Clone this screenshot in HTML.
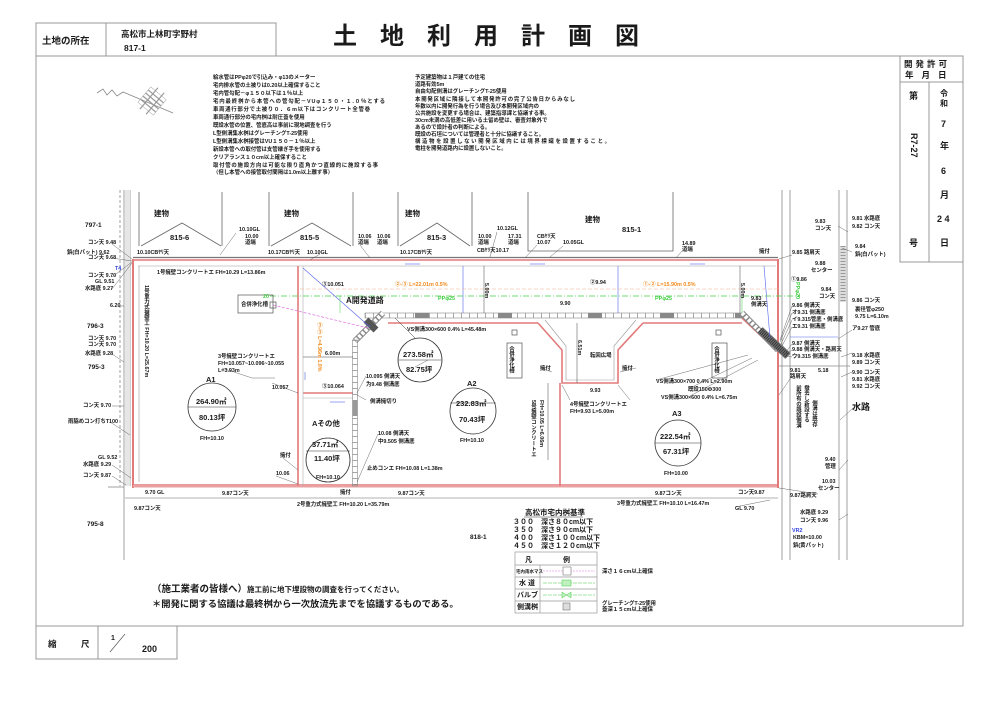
<!DOCTYPE html>
<html><head><meta charset="utf-8">
<style>
html,body{margin:0;padding:0;background:#fff;}
svg{display:block}
text{font-family:"Liberation Sans","Noto Sans CJK JP",sans-serif;fill:#1a1a1a;}
.s{font-size:5.4px;font-weight:bold}
.m{font-size:6.3px;font-weight:bold}
.b{font-size:7.5px;font-weight:bold}
.v{writing-mode:vertical-rl}
.o{fill:#f08a1c}
.g{fill:#3ccc3c}
.bl{fill:#3344dd}
</style></head><body>
<svg width="1000" height="707" viewBox="0 0 1000 707" xmlns="http://www.w3.org/2000/svg">
<rect width="1000" height="707" fill="#fff"/>

<!-- ===== Header ===== -->
<g fill="none" stroke="#999" stroke-width="1">
  <rect x="36" y="23" width="240" height="33"/>
  <line x1="106" y1="23" x2="106" y2="56"/>
  <rect x="36" y="56" width="927" height="570"/>
  <rect x="900" y="56" width="63" height="206"/>
  <line x1="900" y1="82" x2="963" y2="82"/>
  <line x1="929" y1="82" x2="929" y2="262"/>
  <rect x="36" y="626" width="141" height="33"/>
  <line x1="98" y1="626" x2="98" y2="659"/>
</g>
<text x="42" y="44" style="font-size:9.5px;font-weight:bold">土地の所在</text>
<text x="121" y="37" style="font-size:8.5px;font-weight:bold">高松市上林町字野村</text>
<text x="124" y="51" style="font-size:8.5px;font-weight:bold">817-1</text>
<text x="333" y="44" style="font-size:24px;font-weight:bold;letter-spacing:23px">土地利用計画図</text>

<!-- permit box -->
<text x="904" y="67" style="font-size:8.5px;font-weight:bold;letter-spacing:3px">開発許可</text>
<text x="905" y="78" style="font-size:8.5px;font-weight:bold;letter-spacing:8px">年月日</text>
<text x="909" y="99" style="font-size:9px;font-weight:bold">第</text>
<text x="940" y="96" style="font-size:8px;font-weight:bold">令</text>
<text x="940" y="106" style="font-size:8px;font-weight:bold">和</text>
<text x="941" y="127" style="font-size:9px;font-weight:bold">7</text>
<text x="940" y="149" style="font-size:9px;font-weight:bold">年</text>
<text x="941" y="174" style="font-size:9px;font-weight:bold">6</text>
<text x="940" y="198" style="font-size:9px;font-weight:bold">月</text>
<text x="937" y="222" style="font-size:9px;font-weight:bold">2 4</text>
<text x="940" y="246" style="font-size:9px;font-weight:bold">日</text>
<text x="909" y="246" style="font-size:9px;font-weight:bold">号</text>
<text transform="translate(911,133) rotate(90)" style="font-size:9px;font-weight:bold">R7-27</text>

<!-- ===== North arrow ===== -->
<polyline points="97,93 103,89 107,95 112,90 117,96 123,92 173,113" fill="none" stroke="#888" stroke-width="0.8"/>
<g transform="translate(152,101) rotate(40)">
  <rect x="-10" y="-10" width="20" height="20" fill="none" stroke="#aaa" stroke-width="0.5"/>
  <g stroke="#999" stroke-width="1.2">
    <line x1="-10" y1="-6" x2="10" y2="-6"/><line x1="-10" y1="-2" x2="10" y2="-2"/>
    <line x1="-10" y1="2" x2="10" y2="2"/><line x1="-10" y1="6" x2="10" y2="6"/>
    <line x1="-4" y1="-14" x2="-4" y2="14"/><line x1="4" y1="-14" x2="4" y2="14"/>
  </g>
</g>

<!-- ===== Notes block 1 ===== -->
<g class="s">
<text x="213" y="79">給水管はPPφ20で引込み・φ13のメーター</text>
<text x="213" y="87">宅内排水管の土被りは0.20以上確保すること</text>
<text x="213" y="95">宅内管勾配－φ１５０以下は１％以上</text>
<text x="213" y="103" textLength="172">宅内最終桝から本管への管勾配－VUφ１５０・１.０％とする</text>
<text x="213" y="111" textLength="157">車両通行部分で土被り０．６m以下はコンクリート全管巻</text>
<text x="213" y="119">車両通行部分の宅内桝は耐圧蓋を使用</text>
<text x="213" y="127">既設水管の位置、管底高は事前に現地調査を行う</text>
<text x="213" y="135">L型側溝集水桝はグレーチングT-25使用</text>
<text x="213" y="143">L型側溝集水桝接管はVU１５０－１％以上</text>
<text x="213" y="151">新設本管への取付管は支管継ぎ手を使用する</text>
<text x="213" y="159">クリアランス１０cm以上確保すること</text>
<text x="213" y="167" textLength="165">取付管の施設方向は可能な限り直角かつ直線的に施設する事</text>
<text x="213" y="174">（但し本管への接管取付間隔は1.0m以上離す事）</text>
</g>
<!-- ===== Notes block 2 ===== -->
<g class="s">
<text x="415" y="79">予定建築物は１戸建ての住宅</text>
<text x="415" y="86">道路有効5m</text>
<text x="415" y="93">自由勾配側溝はグレーチングT-25使用</text>
<text x="415" y="101" textLength="160">本開発区域に隣接して本開発許可の完了公告日からみなし</text>
<text x="415" y="108">年数以内に開発行為を行う場合及び本開発区域内の</text>
<text x="415" y="115">公共施設を変更する場合は、建築指導課と協議する事。</text>
<text x="415" y="122">30cm未満の高低差に用いる土留め壁は、審査対象外で</text>
<text x="415" y="129">あるので設計者の判断による。</text>
<text x="415" y="136">既設の石垣については管理者と十分に協議すること。</text>
<text x="415" y="143" textLength="195">構造物を設置しない開発区域内には境界標識を設置すること。</text>
<text x="415" y="150">電柱を開発道路内に設置しないこと。</text>
</g>

<!-- ===== Buildings ===== -->
<g fill="none" stroke="#666" stroke-width="0.8">
  <line x1="139" y1="192" x2="139" y2="246"/><line x1="222" y1="192" x2="222" y2="246"/>
  <polyline points="141,246 182,223 221,246"/>
  <line x1="269" y1="192" x2="269" y2="246"/><line x1="353" y1="192" x2="353" y2="246"/>
  <polyline points="271,246 312,223 351,246"/>
  <line x1="398" y1="192" x2="398" y2="246"/><line x1="472" y1="192" x2="472" y2="246"/>
  <polyline points="400,246 437,223 470,246"/>
  <polyline points="528,192 528,251 673,251 673,192"/>
</g>
<g class="b">
<text x="154" y="216">建物</text><text x="170" y="240">815-6</text>
<text x="284" y="216">建物</text><text x="300" y="240">815-5</text>
<text x="405" y="216">建物</text><text x="427" y="240">815-3</text>
<text x="585" y="222">建物</text><text x="622" y="232">815-1</text>
</g>

<!-- ===== Side roads ===== -->
<g stroke="#8a8a8a" stroke-width="0.8" fill="none">
  <line x1="120" y1="190" x2="120" y2="486" stroke-dasharray="3 2"/>
  <line x1="124" y1="190" x2="124" y2="560"/>
  <line x1="130" y1="190" x2="130" y2="486"/>
  <line x1="108" y1="487" x2="124" y2="487"/>
  <line x1="782" y1="190" x2="782" y2="560"/>
  <line x1="790" y1="190" x2="790" y2="560"/>
  <line x1="839" y1="190" x2="839" y2="560"/>
  <line x1="847" y1="190" x2="847" y2="560"/>
  <line x1="778" y1="366" x2="850" y2="366"/>
</g>
<rect x="125" y="190" width="5" height="296" fill="#e6e6e6"/>
<rect x="840" y="246" width="6" height="56" fill="#ddd"/>
<line x1="843" y1="246" x2="843" y2="302" stroke="#999" stroke-width="5" stroke-dasharray="1 2"/>
<line x1="790" y1="337" x2="838" y2="337" stroke="#5566ee" stroke-width="0.6"/>

<!-- ===== Site boundaries ===== -->
<line x1="133" y1="257.5" x2="778" y2="257.5" stroke="#777" stroke-width="1.2"/>
<line x1="133" y1="260" x2="778" y2="260" stroke="#e27a7a" stroke-width="1.6"/>
<line x1="138" y1="266" x2="776" y2="266" stroke="#999" stroke-width="0.6"/>
<line x1="133" y1="259" x2="133" y2="488" stroke="#e27a7a" stroke-width="2"/>
<line x1="139" y1="266" x2="139" y2="482" stroke="#999" stroke-width="0.6"/>
<line x1="133" y1="486" x2="778" y2="486" stroke="#eaa0a0" stroke-width="3"/>
<line x1="133" y1="484.5" x2="778" y2="484.5" stroke="#d66" stroke-width="0.6"/>
<line x1="125" y1="498" x2="778" y2="498" stroke="#999" stroke-width="0.8"/>
<line x1="778" y1="259" x2="778" y2="488" stroke="#e27a7a" stroke-width="2"/>

<!-- lot dividers -->
<g stroke="#e27a7a" stroke-width="1.6" fill="none">
  <line x1="298" y1="266" x2="298" y2="486"/>
  <line x1="303" y1="393" x2="353" y2="393"/>
  <line x1="388" y1="323" x2="538" y2="323"/>
  <line x1="643" y1="323" x2="742" y2="323"/>
  <polyline points="538,323 562,350 562,383 618,383 618,350 643,323"/>
  <line x1="560" y1="383" x2="560" y2="486"/>
  <line x1="742" y1="318" x2="778" y2="352"/>
</g>
<line x1="303" y1="266" x2="303" y2="486" stroke="#aaa" stroke-width="0.6"/>
<line x1="303" y1="398" x2="353" y2="398" stroke="#aaa" stroke-width="0.6"/>
<polyline points="545,320 566,346 566,380 614,380 614,346 636,320" fill="none" stroke="#999" stroke-width="0.6"/>

<!-- gutters (ladder) -->
<g fill="none" stroke="#888" stroke-width="0.6">
  <rect x="365" y="313" width="380" height="5"/>
</g>
<line x1="365" y1="315.5" x2="745" y2="315.5" stroke="#888" stroke-width="5" stroke-dasharray="0.7 7.3"/>
<g fill="#888">
  <rect x="415" y="313" width="14" height="5"/><rect x="498" y="313" width="14" height="5"/>
  <rect x="588" y="313" width="14" height="5"/><rect x="660" y="313" width="14" height="5"/>
  <rect x="735" y="313" width="10" height="5"/>
</g>
<line x1="383" y1="313" x2="355" y2="341" stroke="#888" stroke-width="6"/>
<line x1="383" y1="313" x2="355" y2="341" stroke="#fff" stroke-width="4" stroke-dasharray="3 1.5"/>
<rect x="352.5" y="340" width="5" height="146" fill="none" stroke="#888" stroke-width="0.6"/>
<line x1="355" y1="340" x2="355" y2="486" stroke="#888" stroke-width="5" stroke-dasharray="0.7 5.3"/>
<rect x="352.5" y="400" width="5" height="16" fill="#999"/>
<line x1="366" y1="320" x2="376" y2="330" stroke="#555" stroke-width="7"/>
<!-- right diagonal crossing -->
<line x1="742" y1="313" x2="778" y2="350" stroke="#888" stroke-width="6"/>
<line x1="742" y1="313" x2="778" y2="350" stroke="#fff" stroke-width="4" stroke-dasharray="3 1.5"/>
<line x1="760" y1="330" x2="788" y2="356" stroke="#777" stroke-width="8"/>
<line x1="760" y1="330" x2="788" y2="356" stroke="#333" stroke-width="6" stroke-dasharray="1 1"/>

<!-- top gutter arrows -->
<g stroke="#5566ee" stroke-width="0.6">
  <line x1="405" y1="264" x2="420" y2="264"/><line x1="530" y1="264" x2="545" y2="264"/>
  <line x1="690" y1="264" x2="705" y2="264"/><line x1="305" y1="380" x2="305" y2="372"/>
  <line x1="463" y1="266" x2="463" y2="313"/><line x1="618" y1="266" x2="618" y2="313"/>
  <line x1="764" y1="266" x2="770" y2="338"/>
  <line x1="303" y1="268" x2="370" y2="327"/>
  <line x1="330" y1="402" x2="345" y2="402"/>
</g>

<!-- sewer / water lines -->
<line x1="300" y1="289" x2="778" y2="289" stroke="#f5b08a" stroke-width="0.6" stroke-dasharray="4 2"/>
<line x1="270" y1="296" x2="800" y2="296" stroke="#44cc44" stroke-width="0.7" stroke-dasharray="6 2 1 2"/>
<line x1="273" y1="305" x2="368" y2="328" stroke="#e070e0" stroke-width="0.7" stroke-dasharray="3 1.5"/>
<line x1="340" y1="296" x2="340" y2="313" stroke="#44cc44" stroke-width="0.5"/>
<line x1="742" y1="296" x2="742" y2="313" stroke="#44cc44" stroke-width="0.5"/>

<!-- dimension lines -->
<g stroke="#444" stroke-width="0.5" fill="none">
  <line x1="484" y1="266" x2="484" y2="313"/>
  <line x1="740" y1="266" x2="740" y2="313"/>
  <line x1="303" y1="357" x2="353" y2="357"/>
  <line x1="577" y1="323" x2="577" y2="383"/>
  <line x1="548" y1="383" x2="548" y2="460"/>
</g>

<!-- septic boxes -->
<g fill="none" stroke="#555" stroke-width="0.7">
  <rect x="238" y="295" width="35" height="18"/>
  <rect x="507" y="343" width="15" height="35"/>
  <rect x="712" y="343" width="15" height="35"/>
  <rect x="270" y="302" width="6" height="6"/>
  <rect x="512" y="330" width="5" height="5"/>
  <rect x="716" y="330" width="5" height="5"/>
</g>
<text x="241" y="306" class="s">合併浄化槽</text>
<text x="511" y="346" class="s v">合併浄化槽</text>
<text x="716" y="346" class="s v">合併浄化槽</text>

<!-- circles -->
<g fill="#fff" stroke="#333" stroke-width="0.8">
  <circle cx="212" cy="407" r="24"/><circle cx="420" cy="360" r="22"/>
  <circle cx="328" cy="460" r="22"/><circle cx="473" cy="411" r="23"/>
  <circle cx="678" cy="443" r="23"/>
</g>
<g stroke="#333" stroke-width="0.5">
  <line x1="188" y1="407" x2="236" y2="407"/><line x1="398" y1="360" x2="442" y2="360"/>
  <line x1="306" y1="451" x2="350" y2="451"/><line x1="450" y1="403" x2="496" y2="403"/>
  <line x1="655" y1="443" x2="701" y2="443"/>
  <line x1="395" y1="318" x2="415" y2="338"/>
</g>
<g class="b">
<text x="206" y="382">A1</text>
<text x="196" y="404">264.90㎡</text><text x="199" y="420">80.13坪</text>
<text x="403" y="357">273.58㎡</text><text x="406" y="372">82.75坪</text>
<text x="312" y="426">Aその他</text>
<text x="312" y="447">37.71㎡</text><text x="314" y="461">11.40坪</text>
<text x="467" y="386">A2</text>
<text x="456" y="406">232.83㎡</text><text x="459" y="422">70.43坪</text>
<text x="672" y="416">A3</text>
<text x="660" y="439">222.54㎡</text><text x="663" y="454">67.31坪</text>
<text x="346" y="303" style="font-size:8px">A開発道路</text>
</g>
<g class="s">
<text x="200" y="440">FH=10.10</text>
<text x="316" y="479">FH=10.10</text>
<text x="460" y="442">FH=10.10</text>
<text x="664" y="475">FH=10.00</text>
</g>

<!-- orange/green labels -->
<text x="395" y="286" class="s o">②-③ L=22.01m 0.5%</text>
<text x="643" y="286" class="s o">①-② L=15.90m 0.5%</text>
<text x="438" y="300" class="s g">PPφ25</text>
<text x="655" y="300" class="s g">PPφ25</text>
<text x="263" y="298" class="s g">20</text>
<text x="319" y="322" class="s o v">③-③ L=4.96m 1.0%</text>
<text x="797" y="282" class="s g v">PPφ20</text>

<!-- internal labels -->
<g class="s">
<text x="322" y="286">③10.051</text>
<text x="590" y="284">②9.94</text>
<text x="486" y="283" class="v">5.00m</text>
<text x="742" y="283" class="v">5.00m</text>
<text x="560" y="305">9.90</text>
<text x="407" y="331">VS側溝300×600 0.4% L=45.48m</text>
<text x="325" y="355">6.00m</text>
<text x="218" y="358">3号擁壁コンクリートエ</text>
<text x="218" y="365">FH=10.057~10.096~10.055</text>
<text x="218" y="372">L=3.93m</text>
<text x="272" y="389">10.057</text>
<text x="322" y="388">③10.064</text>
<text x="366" y="378">10.095 側溝天</text>
<text x="366" y="386">为9.48 側溝底</text>
<text x="370" y="403">側溝擁切り</text>
<text x="378" y="435">10.08 側溝天</text>
<text x="378" y="443">中9.505 側溝底</text>
<text x="367" y="470">止めコンエ FH=10.08 L=1.38m</text>
<text x="280" y="457">擁付</text>
<text x="276" y="475">10.06</text>
<text x="590" y="357">転回広場</text>
<text x="579" y="340" class="v">6.51m</text>
<text x="540" y="370">擁付</text>
<text x="622" y="370">擁付</text>
<text x="590" y="392">9.93</text>
<text x="570" y="406">4号擁壁コンクリートエ</text>
<text x="570" y="413">FH=9.93 L=5.00m</text>
<text x="533" y="400" class="v">5号擁壁コンクリートエ</text>
<text x="541" y="400" class="v">FH=10.05 L=6.06m</text>
<text x="656" y="383">VS側溝300×700 0.4% L=2.90m</text>
<text x="688" y="391">既設150Φ300</text>
<text x="661" y="399">VS側溝300×600 0.4% L=6.75m</text>
<text x="751" y="300">9.83</text><text x="751" y="306">側溝天</text>
<text x="146" y="285" class="v">1号重力式擁壁工 FH=10.20 L=25.67m</text>
<text x="157" y="274">1号擁壁コンクリートエ FH=10.29 L=13.86m</text>
</g>

<!-- top labels -->
<g class="s">
<text x="137" y="254">10.10CBﾔﾘ天</text>
<text x="239" y="231">10.10GL</text>
<text x="245" y="238">10.00</text><text x="245" y="244">道端</text>
<text x="268" y="254">10.17CBﾔﾘ天</text>
<text x="307" y="254">10.10GL</text>
<text x="358" y="238">10.06</text><text x="358" y="244">道端</text>
<text x="377" y="238">10.06</text><text x="377" y="244">道端</text>
<text x="400" y="254">10.17CBﾔﾘ天</text>
<text x="497" y="230">10.12GL</text>
<text x="478" y="238">10.00</text><text x="478" y="244">道端</text>
<text x="477" y="252">CBﾔﾘ天10.17</text>
<text x="508" y="238">17.31</text><text x="508" y="244">道端</text>
<text x="537" y="238">CBﾔﾘ天</text><text x="537" y="244">10.07</text>
<text x="563" y="244">10.05GL</text>
<text x="682" y="245">14.89</text><text x="682" y="251">道端</text>
<text x="759" y="253">擁付</text>
</g>
<!-- left labels -->
<g class="s">
<text x="85" y="227" style="font-size:6.5px">797-1</text>
<text x="88" y="244">コン天 9.48</text>
<text x="67" y="254">鋲(白パット) 9.62</text>
<text x="88" y="259">コン天 9.68</text>
<text x="115" y="270" class="bl">T4</text>
<text x="88" y="277">コン天 9.70</text>
<text x="95" y="283">GL 9.51</text>
<text x="85" y="290">水路底 9.27</text>
<text x="110" y="307">6.20</text>
<text x="87" y="328" style="font-size:6.5px">796-3</text>
<text x="88" y="340">コン天 9.70</text>
<text x="88" y="346">コン天 9.70</text>
<text x="85" y="355">水路底 9.28</text>
<text x="88" y="369" style="font-size:6.5px">795-3</text>
<text x="83" y="407">コン天 9.70</text>
<text x="68" y="423">雨脇めコン打ちT100</text>
<text x="98" y="459">GL 9.52</text>
<text x="83" y="466">水路底 9.29</text>
<text x="83" y="477">コン天 9.87</text>
<text x="145" y="494">9.70 GL</text>
<text x="134" y="510">9.87コン天</text>
<text x="87" y="526" style="font-size:6.5px">795-8</text>
<text x="222" y="495">9.87コン天</text>
<text x="340" y="494">擁付</text>
<text x="297" y="506">2号重力式擁壁工 FH=10.20 L=35.79m</text>
<text x="398" y="495">9.87コン天</text>
<text x="655" y="495">9.87コン天</text>
<text x="617" y="505">3号重力式擁壁工 FH=10.10 L=16.47m</text>
<text x="738" y="494">コン天9.87</text>
<text x="735" y="510">GL 9.70</text>
<text x="470" y="539" style="font-size:6.5px">818-1</text>
</g>
<!-- right labels -->
<g class="s">
<text x="815" y="223">9.83</text><text x="815" y="230">コン天</text>
<text x="852" y="220">9.81 水路底</text>
<text x="852" y="228">9.82 コン天</text>
<text x="855" y="248">9.84</text><text x="855" y="256">鋲(白パット)</text>
<text x="792" y="254">9.85 路肩天</text>
<text x="815" y="265">9.88</text><text x="811" y="272">センター</text>
<text x="791" y="281">①9.86</text>
<text x="821" y="291">9.84</text><text x="819" y="298">コン天</text>
<text x="852" y="302">9.86 コン天</text>
<text x="792" y="307">9.86 側溝天</text>
<text x="792" y="314">オ9.31 側溝底</text>
<text x="792" y="321">イ9.315管底・側溝底</text>
<text x="792" y="328">エ9.31 側溝底</text>
<text x="855" y="311">裏径管φ250</text>
<text x="855" y="318">9.75 L=6.10m</text>
<text x="852" y="330">ア9.27 管底</text>
<text x="792" y="345">9.87 側溝天</text>
<text x="792" y="351">9.88 側溝天・路肩天</text>
<text x="792" y="358">ウ9.315 側溝底</text>
<text x="852" y="357">9.18 水路底</text>
<text x="852" y="364">9.89 コン天</text>
<text x="790" y="372">9.81</text><text x="790" y="378">路肩天</text>
<text x="818" y="372">5.18</text>
<text x="852" y="374">9.90 コン天</text>
<text x="852" y="381">9.81 水路底</text>
<text x="852" y="388">9.92 コン天</text>
<text x="798" y="385" class="v">前所有の既設側溝</text>
<text x="806" y="385" class="v">撤去し新設する</text>
<text x="814" y="400" class="v">側溝は既存</text>
<text x="825" y="461">9.40</text><text x="825" y="468">管理</text>
<text x="822" y="483">10.03</text><text x="818" y="490">センター</text>
<text x="790" y="497">9.87路肩天</text>
<text x="800" y="514">水路底 9.29</text>
<text x="800" y="522">コン天 9.96</text>
<text x="792" y="532" class="bl">VR2</text>
<text x="793" y="539">KBM=10.00</text>
<text x="793" y="547">鋲(黄パット)</text>
</g>
<text x="852" y="410" style="font-size:9px;font-weight:bold">水路</text>

<!-- leader lines -->
<g stroke="#444" stroke-width="0.4" fill="none">
  <line x1="112" y1="244" x2="132" y2="259"/><line x1="112" y1="258" x2="132" y2="261"/>
  <line x1="112" y1="277" x2="132" y2="262"/><line x1="112" y1="289" x2="132" y2="263"/>
  <line x1="118" y1="306" x2="124" y2="306"/>
  <line x1="112" y1="354" x2="124" y2="362"/><line x1="112" y1="406" x2="124" y2="406"/>
  <line x1="110" y1="422" x2="130" y2="435"/>
  <line x1="112" y1="465" x2="131" y2="478"/><line x1="112" y1="476" x2="126" y2="485"/>
  <line x1="236" y1="233" x2="220" y2="255"/><line x1="320" y1="254" x2="310" y2="260"/>
  <line x1="360" y1="245" x2="370" y2="258"/><line x1="497" y1="232" x2="490" y2="257"/>
  <line x1="537" y1="245" x2="525" y2="258"/><line x1="563" y1="246" x2="550" y2="257"/>
  <line x1="682" y1="251" x2="676" y2="258"/><line x1="792" y1="255" x2="779" y2="259"/>
  <line x1="838" y1="226" x2="848" y2="232"/><line x1="852" y1="252" x2="842" y2="248"/>
  <line x1="780" y1="340" x2="792" y2="306"/><line x1="780" y1="342" x2="792" y2="313"/>
  <line x1="781" y1="344" x2="792" y2="320"/><line x1="782" y1="346" x2="792" y2="327"/>
  <line x1="786" y1="352" x2="792" y2="344"/><line x1="786" y1="354" x2="792" y2="350"/>
  <line x1="786" y1="356" x2="792" y2="357"/>
  <line x1="790" y1="379" x2="779" y2="395"/><line x1="818" y1="494" x2="779" y2="488"/>
  <line x1="841" y1="357" x2="852" y2="353"/><line x1="841" y1="377" x2="852" y2="372"/>
  <line x1="848" y1="460" x2="839" y2="470"/><line x1="848" y1="514" x2="839" y2="520"/>
  <line x1="852" y1="330" x2="838" y2="339"/><line x1="853" y1="408" x2="840" y2="420"/>
  <line x1="735" y1="507" x2="770" y2="500"/><line x1="415" y1="367" x2="428" y2="360"/>
  <line x1="272" y1="383" x2="298" y2="393"/><line x1="366" y1="376" x2="357" y2="393"/>
  <line x1="366" y1="400" x2="357" y2="395"/><line x1="378" y1="434" x2="357" y2="482"/>
  <line x1="283" y1="458" x2="298" y2="470"/><line x1="276" y1="476" x2="298" y2="484"/>
  <line x1="222" y1="368" x2="252" y2="378"/><line x1="252" y1="378" x2="275" y2="378"/>
  <line x1="656" y1="380" x2="748" y2="355"/><line x1="690" y1="388" x2="752" y2="358"/>
  <line x1="690" y1="396" x2="758" y2="360"/>
  <line x1="540" y1="368" x2="552" y2="372"/><line x1="636" y1="368" x2="620" y2="372"/>
  <line x1="570" y1="400" x2="562" y2="385"/><line x1="630" y1="400" x2="618" y2="385"/>
</g>

<!-- ===== Legend ===== -->
<text x="525" y="515" style="font-size:7.5px;font-weight:bold">高松市宅内桝基準</text>
<line x1="524" y1="517" x2="583" y2="517" stroke="#333" stroke-width="0.5"/>
<g style="font-size:7px;font-weight:bold">
<text x="513" y="524">３００　深さ８０cm以下</text>
<text x="513" y="532">３５０　深さ９０cm以下</text>
<text x="513" y="540">４００　深さ１００cm以下</text>
<text x="513" y="548">４５０　深さ１２０cm以下</text>
</g>
<g fill="none" stroke="#999" stroke-width="0.7">
  <rect x="515" y="552" width="82" height="61"/>
  <line x1="540" y1="565" x2="540" y2="613"/>
  <line x1="515" y1="565" x2="597" y2="565"/><line x1="515" y1="577" x2="597" y2="577"/>
  <line x1="515" y1="589" x2="597" y2="589"/><line x1="515" y1="601" x2="597" y2="601"/>
</g>
<text x="525" y="562" style="font-size:7px;font-weight:bold">凡</text>
<text x="563" y="562" style="font-size:7px;font-weight:bold">例</text>
<text x="516" y="573" style="font-size:4.5px;font-weight:bold">宅内雨水マス</text>
<text x="519" y="585" style="font-size:7px;font-weight:bold">水 道</text>
<text x="517" y="597" style="font-size:7px;font-weight:bold">バルブ</text>
<text x="517" y="609" style="font-size:7px;font-weight:bold">側溝桝</text>
<line x1="543" y1="571" x2="595" y2="571" stroke="#e070e0" stroke-width="0.6" stroke-dasharray="2 1"/>
<rect x="563" y="567" width="8" height="8" fill="#fff" stroke="#777" stroke-width="0.6"/>
<line x1="543" y1="583" x2="595" y2="583" stroke="#44cc44" stroke-width="0.6" stroke-dasharray="4 1"/>
<rect x="562" y="580" width="9" height="6" fill="#bff0bf" stroke="#44cc44" stroke-width="0.5"/>
<line x1="543" y1="595" x2="595" y2="595" stroke="#44cc44" stroke-width="0.6" stroke-dasharray="4 1"/>
<polygon points="562,592 571,598 571,592 562,598" fill="#bff0bf" stroke="#44cc44" stroke-width="0.5"/>
<rect x="563" y="603" width="7" height="7" fill="#ddd" stroke="#777" stroke-width="0.6"/>
<text x="602" y="573" class="s">深さ１６cm以上確保</text>
<text x="602" y="605" class="s">グレーチングT-25使用</text>
<text x="602" y="611" class="s">蓋深１５cm以上確保</text>

<!-- ===== Bottom notes ===== -->
<text x="152" y="592"><tspan style="font-size:9.5px;font-weight:bold">（施工業者の皆様へ）</tspan><tspan style="font-size:7.5px;font-weight:bold">施工前に地下埋設物の調査を行ってください。</tspan></text>
<text x="152" y="607" style="font-size:9.3px;font-weight:bold">＊開発に関する協議は最終桝から一次放流先までを協議するものである。</text>

<!-- scale -->
<text x="48" y="647" style="font-size:8.5px;font-weight:bold">縮</text>
<text x="81" y="647" style="font-size:8.5px;font-weight:bold">尺</text>
<text x="111" y="640" style="font-size:7px;font-weight:bold">1</text>
<line x1="110" y1="652" x2="125" y2="634" stroke="#555" stroke-width="0.7"/>
<text x="142" y="652" style="font-size:9px;font-weight:bold">200</text>
</svg>
</body></html>
